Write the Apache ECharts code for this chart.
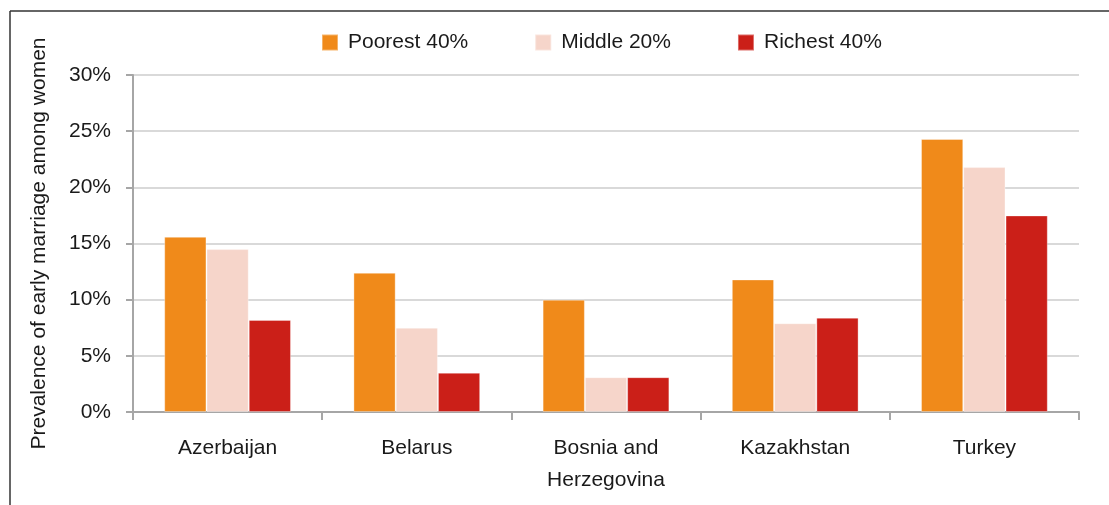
<!DOCTYPE html>
<html>
<head>
<meta charset="utf-8">
<script src="https://cdn.jsdelivr.net/npm/echarts@6/dist/echarts.min.js"></script>
<style>
  html, body { margin: 0; padding: 0; background: #fff; }
  #main { width: 1109px; height: 505px; }
</style>
</head>
<body>
<div id="main"></div>
<script>
'use strict';

var countries = ['Azerbaijan', 'Belarus', 'Bosnia and\nHerzegovina', 'Kazakhstan', 'Turkey'];
var poorest = [15.6, 12.4, 10.0, 11.8, 24.3];
var middle = [14.5, 7.5, 3.1, 7.9, 21.8];
var richest = [8.2, 3.5, 3.1, 8.4, 17.5];
var seriesNames = ['Poorest 40%', 'Middle 20%', 'Richest 40%'];
var yTicks = [0, 5, 10, 15, 20, 25, 30];

var font = 'Liberation Sans, Arial, Helvetica, sans-serif';

var chart = echarts.init(document.getElementById('main'));

function bar(name, data, color) {
    return {
        name: name,
        type: 'bar',
        data: data,
        barGap: '0%',
        barCategoryGap: '33%',
        itemStyle: { color: color, borderColor: 'rgba(255,255,255,0.35)', borderWidth: 1 }
    };
}

var option = {
    animation: false,
    textStyle: { fontFamily: font },
    graphic: [
        { type: 'line', shape: { x1: 10, y1: 11, x2: 1109, y2: 11 }, style: { stroke: '#333', lineWidth: 1.5 } },
        { type: 'line', shape: { x1: 10, y1: 11, x2: 10, y2: 505 }, style: { stroke: '#333', lineWidth: 1.5 } }
    ],
    legend: {
        left: 316,
        top: 27,
        itemWidth: 16,
        itemHeight: 16,
        itemGap: 66,
        icon: 'rect',
        textStyle: { fontSize: 21, color: '#1a1a1a', fontFamily: font, padding: [0, 0, 0, 5] },
        data: seriesNames
    },
    grid: { left: 133, right: 30, top: 75, bottom: 93 },
    xAxis: {
        type: 'category',
        data: countries,
        axisLine: { lineStyle: { color: '#a6a6a6', width: 2 } },
        axisTick: { show: true, length: 8, lineStyle: { color: '#a6a6a6', width: 2 } },
        axisLabel: { fontSize: 21, color: '#1a1a1a', margin: 20, lineHeight: 32, fontFamily: font }
    },
    yAxis: {
        type: 'value',
        min: yTicks[0],
        max: yTicks[yTicks.length - 1],
        interval: 5,
        name: 'Prevalence of early marriage among women',
        nameLocation: 'middle',
        nameGap: 83,
        nameTextStyle: { fontSize: 21, color: '#1a1a1a', fontFamily: font },
        axisLine: { show: true, lineStyle: { color: '#a6a6a6', width: 2 } },
        axisTick: { show: true, length: 7, lineStyle: { color: '#a6a6a6', width: 2 } },
        axisLabel: { fontSize: 21, color: '#1a1a1a', margin: 22, formatter: '{value}%', fontFamily: font },
        splitLine: { lineStyle: { color: '#d9d9d9', width: 2 } }
    },
    series: [
        bar(seriesNames[0], poorest, '#f08a1a'),
        bar(seriesNames[1], middle, '#f6d5ca'),
        bar(seriesNames[2], richest, '#cb1f18')
    ]
};

chart.setOption(option);
</script>
</body>
</html>
